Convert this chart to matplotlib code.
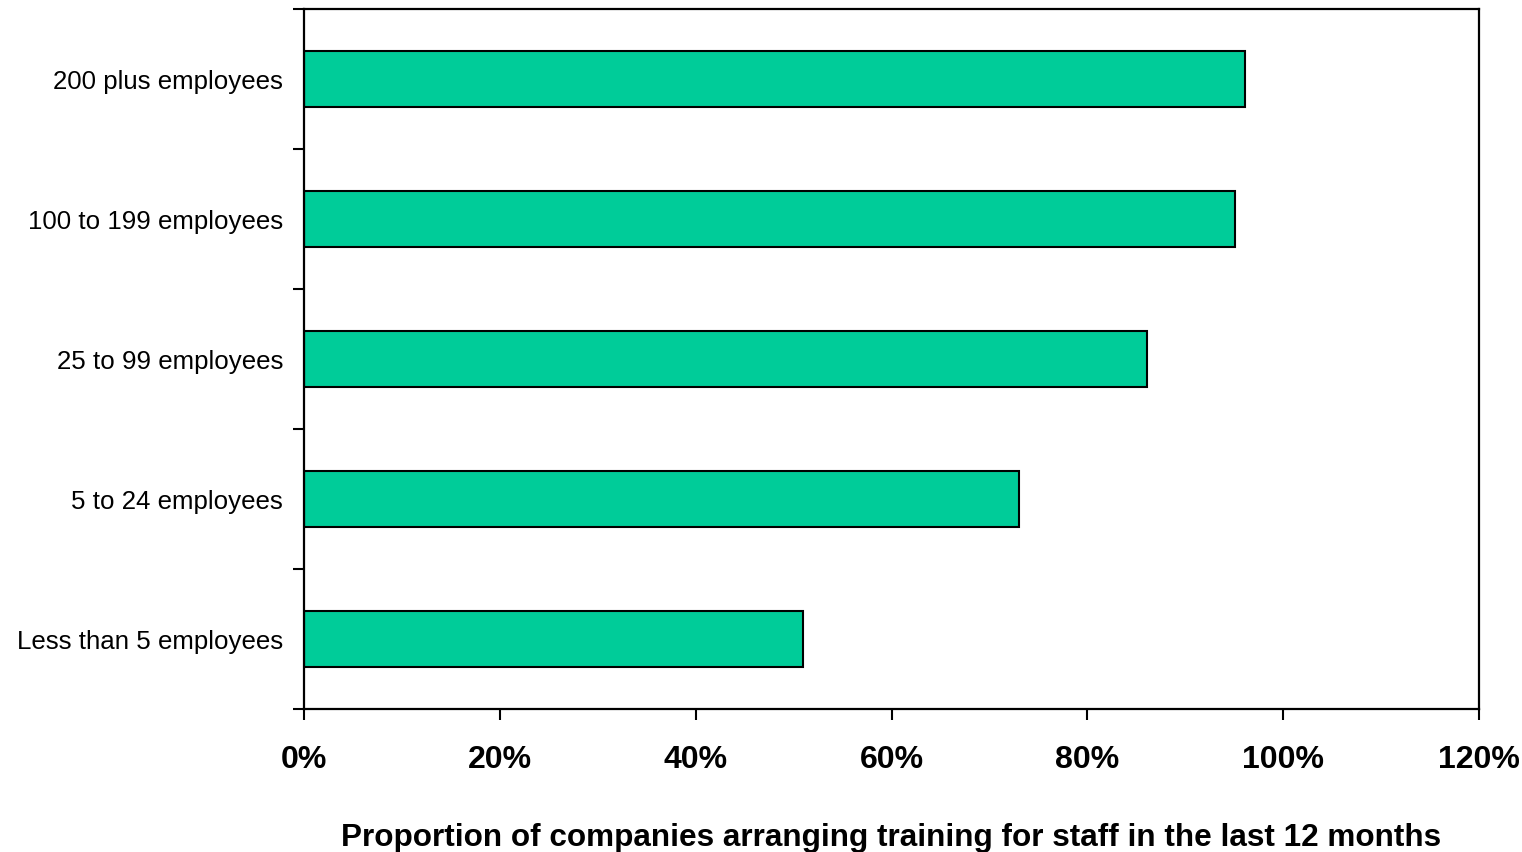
import matplotlib
matplotlib.use("Agg")
import matplotlib.pyplot as plt
from matplotlib.ticker import FixedLocator, PercentFormatter

# company size bands, bottom to top
categories = ["Less than 5 employees", "5 to 24 employees", "25 to 99 employees",
              "100 to 199 employees", "200 plus employees"]
share = [51.0, 73.0, 86.1, 95.1, 96.1]
xticks = [0, 20, 40, 60, 80, 100, 120]

plt.rcParams["font.family"] = ["Liberation Sans", "DejaVu Sans"]

fig = plt.figure(figsize=(15.22, 8.53), dpi=100)
ax = fig.add_axes([304 / 1522, 143 / 853, 1175 / 1522, 700 / 853])

ys = list(range(len(categories)))
ax.barh(ys, share, height=0.4, color="#00cc99", edgecolor="black", linewidth=1.5)

ax.set_xlim(0, 120)
ax.set_ylim(-0.5, len(categories) - 0.5)

ax.set_xticks(xticks)
ax.xaxis.set_major_formatter(PercentFormatter(decimals=0))
for lbl in ax.get_xticklabels():
    lbl.set_fontweight("bold")
ax.tick_params(axis="x", direction="out", length=8, width=1.5, pad=17, labelsize=23)

# tick marks sit between categories, labels at bar centres
ax.yaxis.set_major_locator(FixedLocator([i - 0.5 for i in range(len(categories) + 1)]))
ax.yaxis.set_major_formatter(plt.NullFormatter())
ax.yaxis.set_minor_locator(FixedLocator(ys))
ax.set_yticklabels(categories, minor=True)
ax.tick_params(axis="y", which="major", direction="out", length=8, width=1.5)
ax.tick_params(axis="y", which="minor", length=0, pad=15, labelsize=18.6)

for sp in ax.spines.values():
    sp.set_linewidth(1.6)

ax.set_xlabel("Proportion of companies arranging training for staff in the last 12 months",
              fontsize=22.7, fontweight="bold", labelpad=34.5)

fig.savefig("out.png", dpi=100)
